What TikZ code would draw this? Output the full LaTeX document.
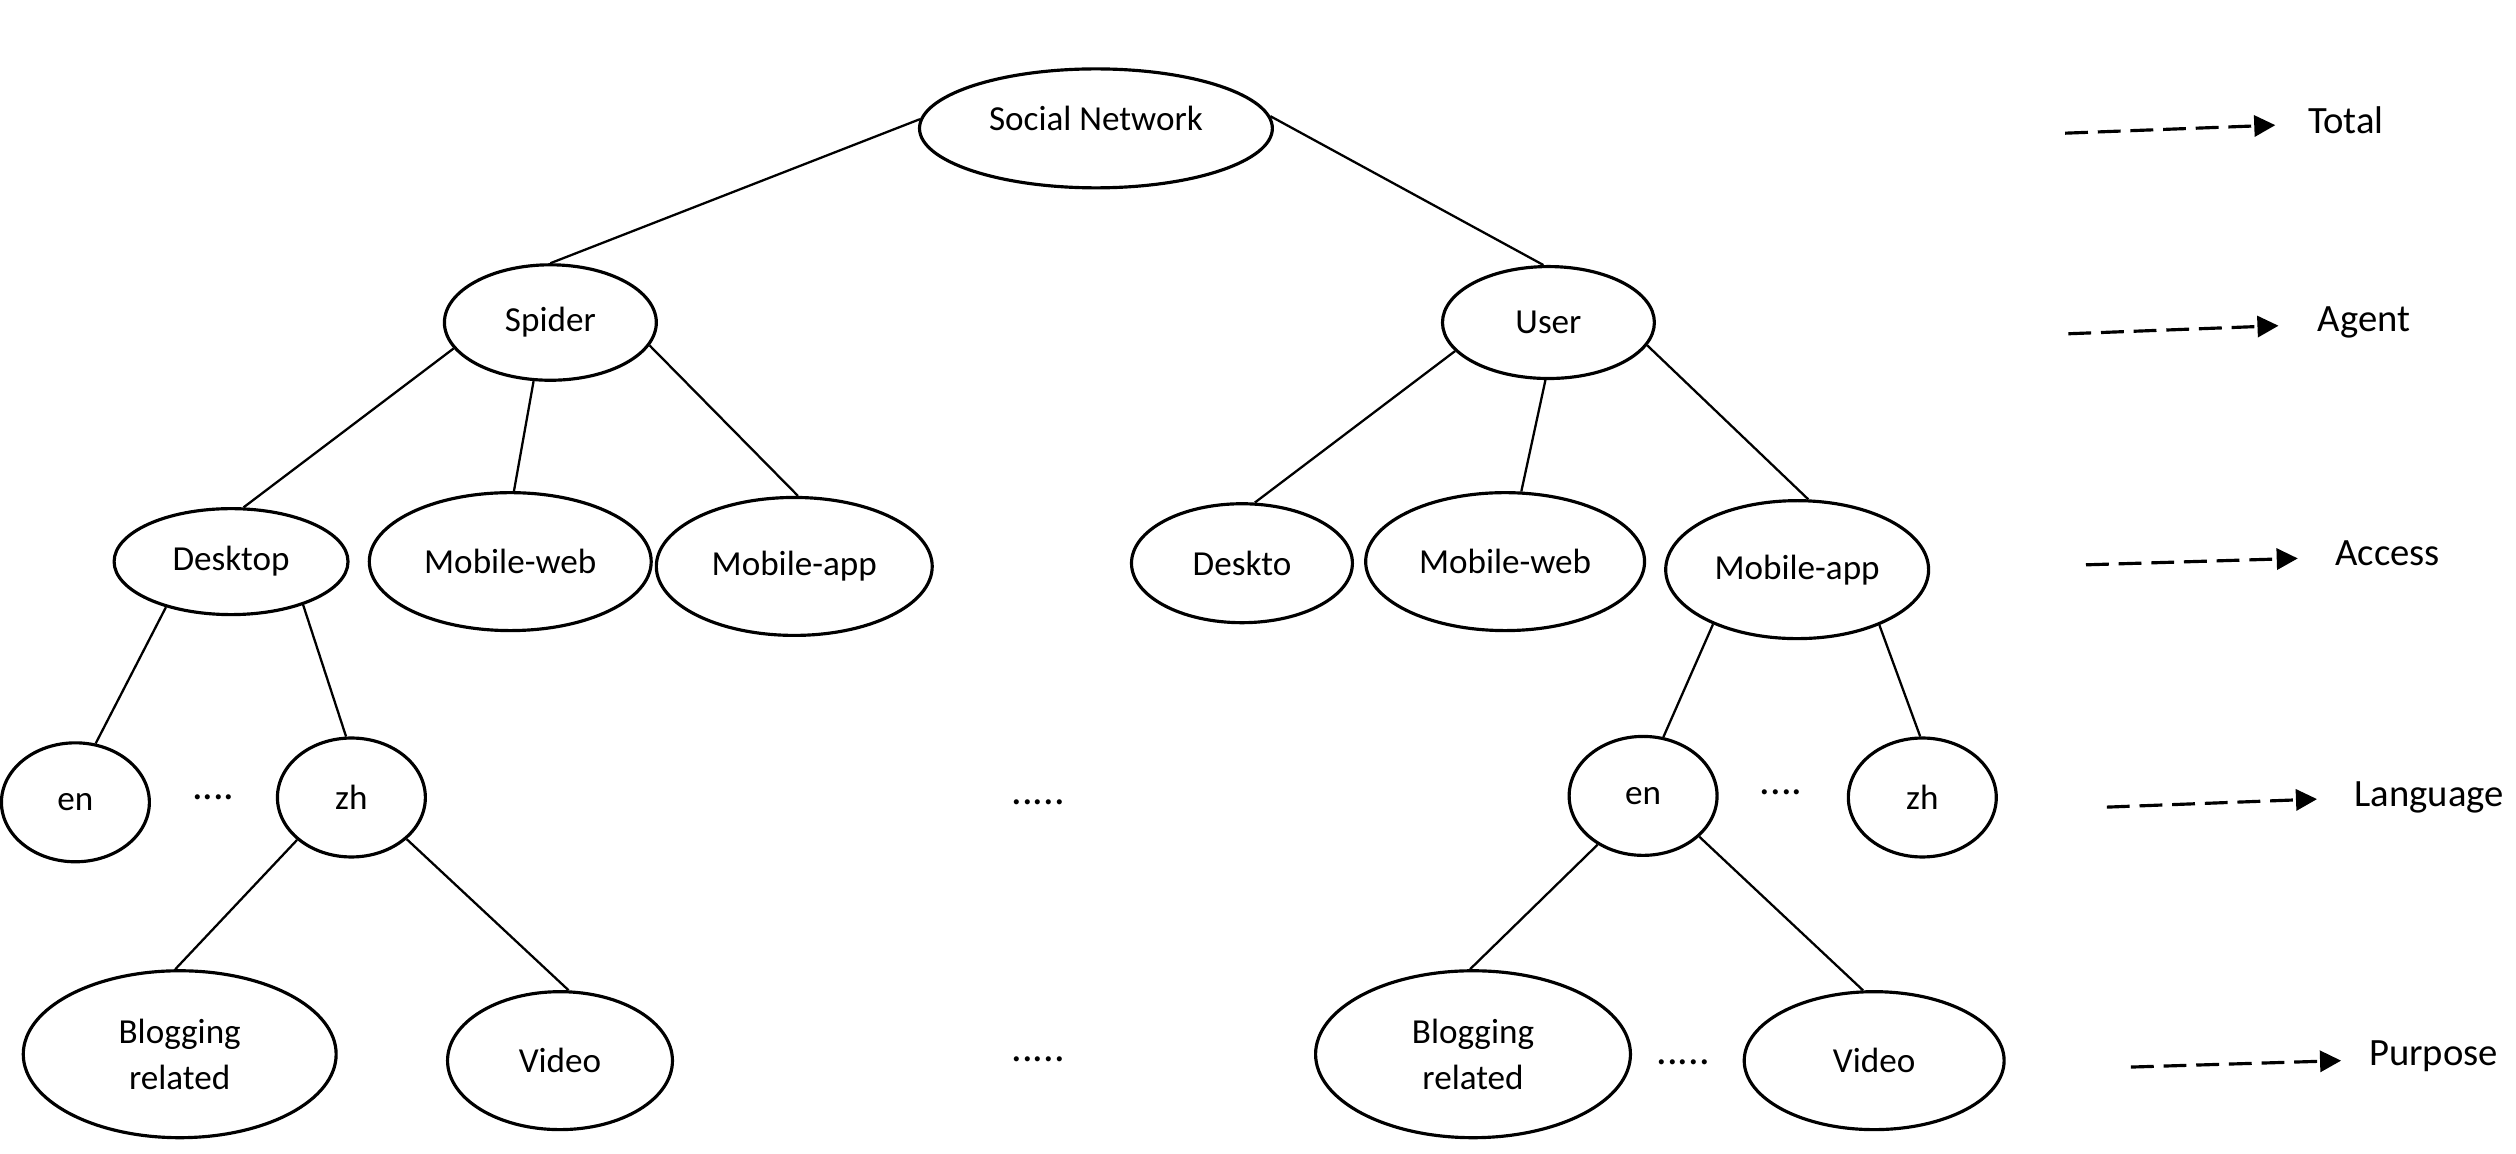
\documentclass[tikz,border=0pt]{standalone}
\usepackage{fontspec}
\setmainfont{Carlito}
\usetikzlibrary{shapes.geometric,arrows.meta}

\begin{document}
\begin{tikzpicture}[x=0.016046cm,y=-0.016046cm,
     font=\fontsize{10}{13}\selectfont,
     ovalnode/.style = {ellipse, draw=black, line width=0.9pt, inner sep=0pt, align=center},
     link/.style = {line width=0.65pt},
     levelarrow/.style = {line width=0.9pt, dash pattern=on 6.5pt off 2.8pt, -{Triangle[length=6pt,width=6pt]}},
     levelname/.style = {anchor=west, inner sep=0pt, font=\fontsize{11}{13}\selectfont},
     dotsnode/.style = {inner sep=0pt, font=\fontsize{12}{13}\selectfont}]
     \useasboundingbox (0,0) rectangle (1568,719);
     % tree
     \node[ovalnode, minimum width=3.53cm, minimum height=1.19cm, text depth=6pt] (social) at (683,80) {Social Network};
     \node[ovalnode, minimum width=2.12cm, minimum height=1.155cm] (spider) at (343,201) {Spider};
     \node[ovalnode, minimum width=2.12cm, minimum height=1.12cm] (user) at (965,201) {User};
     \node[ovalnode, minimum width=2.34cm, minimum height=1.06cm] (desktopL) at (144,350) {Desktop};
     \node[ovalnode, minimum width=2.82cm, minimum height=1.38cm] (mwebL) at (318,350) {Mobile-web};
     \node[ovalnode, minimum width=2.76cm, minimum height=1.38cm] (mappL) at (495,353) {Mobile-app};
     \node[ovalnode, minimum width=2.21cm, minimum height=1.19cm] (desktopR) at (774,351) {Deskto};
     \node[ovalnode, minimum width=2.79cm, minimum height=1.38cm] (mwebR) at (938,350) {Mobile-web};
     \node[ovalnode, minimum width=2.63cm, minimum height=1.38cm] (mappR) at (1120,355) {Mobile-app};
     \node[ovalnode, minimum width=1.48cm, minimum height=1.19cm] (enL) at (47,500) {en};
     \node[ovalnode, minimum width=1.48cm, minimum height=1.19cm] (zhL) at (219,497) {zh};
     \node[ovalnode, minimum width=1.48cm, minimum height=1.19cm] (enR) at (1024,496) {en};
     \node[ovalnode, minimum width=1.48cm, minimum height=1.19cm] (zhR) at (1198,497) {zh};
     \node[ovalnode, minimum width=3.13cm, minimum height=1.67cm] (blogL) at (112,657) {Blogging\\related};
     \node[ovalnode, minimum width=2.25cm, minimum height=1.38cm] (videoL) at (349,661) {Video};
     \node[ovalnode, minimum width=3.15cm, minimum height=1.67cm] (blogR) at (918,657) {Blogging\\related};
     \node[ovalnode, minimum width=2.60cm, minimum height=1.38cm] (videoR) at (1168,661) {Video};
     \node[dotsnode] (dotsA) at (133,497) {....};
     \node[dotsnode] (dotsB) at (647,500) {.....};
     \node[dotsnode] (dotsC) at (647,660) {.....};
     \node[dotsnode] (dotsD) at (1110,494) {....};
     \node[dotsnode] (dotsE) at (1049,662) {.....};
     \draw[link] (social.177) -- (spider.90);
     \draw[link] (social.4) -- (user.95);
     \draw[link] (spider.195) -- (desktopL.77);
     \draw[link] (spider.254) -- (mwebL.87);
     \draw[link] (spider.347) -- (mappL.87);
     \draw[link] (user.197) -- (desktopR.78);
     \draw[link] (user.267) -- (mwebR.77);
     \draw[link] (user.347) -- (mappR.81);
     \draw[link] (desktopL.215) -- (enL.71);
     \draw[link] (desktopL.329) -- (zhL.95);
     \draw[link] (mappR.213) -- (enR.71);
     \draw[link] (mappR.326) -- (zhR.92);
     \draw[link] (zhL.218) -- (blogL.93);
     \draw[link] (zhL.323) -- (videoL.83);
     \draw[link] (enR.227) -- (blogR.92);
     \draw[link] (enR.324) -- (videoR.99);
     % levels
     \node[levelname] (total) at (1438,75) {Total};
     \node[levelname] (agent) at (1444,201) {Agent};
     \node[levelname] (access) at (1455,345) {Access};
     \node[levelname] (language) at (1467,497) {Language};
     \node[levelname] (purpose) at (1476,658) {Purpose};
     \coordinate (totalS) at (1287,83);
     \coordinate (totalE) at (1418,78);
     \coordinate (agentS) at (1289,208);
     \coordinate (agentE) at (1420,203);
     \coordinate (accessS) at (1300,352);
     \coordinate (accessE) at (1432,348);
     \coordinate (languageS) at (1313,503);
     \coordinate (languageE) at (1444,498);
     \coordinate (purposeS) at (1328,665);
     \coordinate (purposeE) at (1459,661);
     \draw[levelarrow] (totalS) -- (totalE);
     \draw[levelarrow] (agentS) -- (agentE);
     \draw[levelarrow] (accessS) -- (accessE);
     \draw[levelarrow] (languageS) -- (languageE);
     \draw[levelarrow] (purposeS) -- (purposeE);
\end{tikzpicture}
\end{document}
